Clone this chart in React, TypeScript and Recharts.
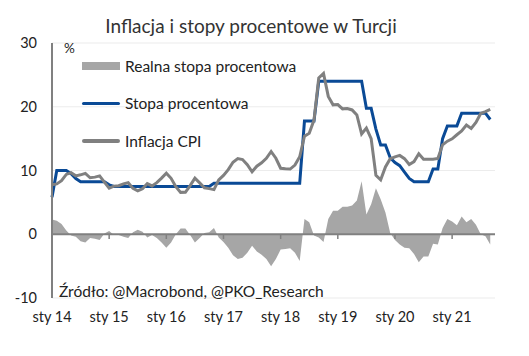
import { ComposedChart, Area, Line, XAxis, YAxis, CartesianGrid, ReferenceLine, Legend } from 'recharts';

// miesiące od sty 2014 (0) do wrz 2021 (92)
const yearTicks = [0, 12, 24, 36, 48, 60, 72, 84];
const yearLabels = ['sty 14', 'sty 15', 'sty 16', 'sty 17', 'sty 18', 'sty 19', 'sty 20', 'sty 21'];
const yTicks = [-10, 0, 10, 20, 30];

const stopaProcentowa = [
  5.8, 10, 10, 10, 9.5, 8.75, 8.25, 8.25, 8.25, 8.25, 8.25, 8.25,
  7.75, 7.5, 7.5, 7.5, 7.5, 7.5, 7.5, 7.5, 7.5, 7.5, 7.5, 7.5,
  7.5, 7.5, 7.5, 7.5, 7.5, 7.5, 7.5, 7.5, 7.5, 7.5, 8, 8,
  8, 8, 8, 8, 8, 8, 8, 8, 8, 8, 8, 8,
  8, 8, 8, 8, 8, 17.75, 17.75, 17.75, 24, 24, 24, 24,
  24, 24, 24, 24, 24, 24, 19.75, 19.75, 16.5, 14, 14, 12,
  11.25, 10.75, 9.75, 8.75, 8.25, 8.25, 8.25, 8.25, 10.25, 10.25, 15, 17,
  17, 17, 19, 19, 19, 19, 19, 19, 18,
];

const inflacjaCPI = [
  7.75, 7.89, 8.39, 9.38, 9.66, 9.16, 9.32, 9.54, 8.86, 8.96, 9.15, 8.17,
  7.24, 7.55, 7.61, 7.91, 8.09, 7.2, 6.81, 7.14, 7.95, 7.58, 8.1, 8.81,
  9.58, 8.78, 7.46, 6.57, 6.58, 7.64, 8.79, 8.05, 7.28, 7.16, 7.0, 8.53,
  9.22, 10.13, 11.29, 11.87, 11.72, 10.9, 9.79, 10.68, 11.2, 11.9, 12.98, 11.92,
  10.35, 10.26, 10.23, 10.85, 12.15, 15.39, 15.85, 17.9, 24.52, 25.24, 21.62, 20.3,
  20.35, 19.67, 19.71, 19.5, 18.71, 15.72, 16.65, 15.01, 9.26, 8.55, 10.56, 11.84,
  12.15, 12.37, 11.86, 10.94, 11.39, 12.62, 11.76, 11.77, 11.75, 11.89, 14.03, 14.6,
  14.97, 15.61, 16.19, 17.14, 16.59, 17.53, 18.95, 19.25, 19.58,
];

const realnaStopa = [
  2.3, 2.1, 1.6, 0.6, -0.2, -0.4, -1.1, -1.3, -0.6, -0.7, -0.9, 0.1,
  0.5, -0.1, -0.1, -0.4, -0.6, 0.3, 0.7, 0.4, -0.5, -0.1, -0.6, -1.3,
  -2.1, -1.3, 0.0, 0.9, 0.9, -0.1, -1.3, -0.6, 0.2, 0.3, 1.0, -0.5,
  -1.2, -2.1, -3.3, -3.9, -3.7, -2.9, -1.8, -2.7, -3.2, -3.9, -5.0, -3.9,
  -2.4, -2.3, -2.2, -2.9, -4.2, 2.4, 1.9, -0.2, -0.5, -1.2, 2.4, 3.7,
  3.7, 4.3, 4.3, 4.5, 5.3, 8.3, 3.1, 4.7, 7.2, 5.5, 3.4, 0.2,
  -0.9, -1.6, -2.1, -2.2, -3.1, -4.4, -3.5, -3.5, -1.5, -1.6, 1.0, 2.4,
  2.0, 1.4, 2.8, 1.9, 2.4, 1.5, 0.0, -0.3, -1.6,
];

const data = stopaProcentowa.map((v, i) => ({
  m: i,
  stopa: v,
  cpi: inflacjaCPI[i],
  realna: realnaStopa[i],
}));

const FONT = 'Lato, "Open Sans", sans-serif';
const TEXT = '#222';
const BLUE = '#0a4a96';
const GREY_LINE = '#808080';
const GREY_AREA = '#a6a6a6';

const legendItems = [
  { name: 'Realna stopa procentowa', color: GREY_AREA, kind: 'area' },
  { name: 'Stopa procentowa', color: BLUE, kind: 'line' },
  { name: 'Inflacja CPI', color: GREY_LINE, kind: 'line' },
];

function LegendBox() {
  return (
    <div style={{ fontFamily: FONT, fontSize: 15.5, color: TEXT }}>
      {legendItems.map((it) => (
        <div key={it.name} style={{ display: 'flex', alignItems: 'center', height: 37.5 }}>
          {it.kind === 'area' ? (
            <span style={{ width: 38, height: 8, background: it.color, display: 'inline-block' }} />
          ) : (
            <span style={{ width: 38, height: 3.5, borderRadius: 2, background: it.color, display: 'inline-block' }} />
          )}
          <span style={{ marginLeft: 5, whiteSpace: 'nowrap' }}>{it.name}</span>
        </div>
      ))}
    </div>
  );
}

export default function App() {
  return (
    <div style={{ position: 'absolute', left: 0, top: 0, width: 529, height: 356, background: '#fff', fontFamily: FONT }}>
      <div style={{ position: 'absolute', left: 0, width: 502, top: 14, textAlign: 'center', fontSize: 19, color: '#333' }}>
        Inflacja i stopy procentowe w Turcji
      </div>
      <ComposedChart width={529} height={356} data={data} margin={{ top: 43, right: 34, bottom: 28, left: 0 }}>
        <CartesianGrid horizontal vertical={false} stroke="#ececec" strokeWidth={1.2} />
        <XAxis
          dataKey="m"
          type="number"
          domain={[0, 93]}
          ticks={yearTicks}
          tickFormatter={(v: number) => yearLabels[yearTicks.indexOf(v)]}
          axisLine={false}
          tickLine={false}
          tickSize={0}
          tickMargin={14}
          height={30}
          tick={{ fill: TEXT, fontSize: 14.5, fontFamily: FONT }}
        />
        <YAxis
          domain={[-10, 30]}
          ticks={yTicks}
          width={52}
          axisLine={{ stroke: '#808080', strokeWidth: 2 }}
          tickLine={false}
          tickSize={6}
          tickMargin={9}
          tick={{ fill: TEXT, fontSize: 14.5, fontFamily: FONT }}
        />
        <Area
          dataKey="realna"
          name="Realna stopa procentowa"
          type="linear"
          fill={GREY_AREA}
          fillOpacity={1}
          stroke="none"
          isAnimationActive={false}
        />
        <ReferenceLine y={0} stroke="#808080" strokeWidth={2} />
        {yearTicks.slice(1).map((t) => (
          <ReferenceLine
            key={t}
            segment={[{ x: t, y: 0 }, { x: t, y: -0.75 }]}
            stroke="#808080"
            strokeWidth={1.5}
          />
        ))}
        <Line
          dataKey="stopa"
          name="Stopa procentowa"
          type="linear"
          stroke={BLUE}
          strokeWidth={3}
          dot={false}
          isAnimationActive={false}
        />
        <Line
          dataKey="cpi"
          name="Inflacja CPI"
          type="linear"
          stroke={GREY_LINE}
          strokeWidth={3}
          dot={false}
          isAnimationActive={false}
        />
        <Legend
          layout="vertical"
          align="center"
          verticalAlign="middle"
          content={() => <LegendBox />}
          wrapperStyle={{ left: 82, top: 47, width: 260, height: 115 }}
        />
      </ComposedChart>
      <div style={{ position: 'absolute', left: 64, top: 40, fontSize: 13.5, color: TEXT }}>%</div>
      <div style={{ position: 'absolute', left: 59, top: 282, fontSize: 15.5, color: TEXT, whiteSpace: 'nowrap' }}>
        Źródło: @Macrobond, @PKO_Research
      </div>
    </div>
  );
}
